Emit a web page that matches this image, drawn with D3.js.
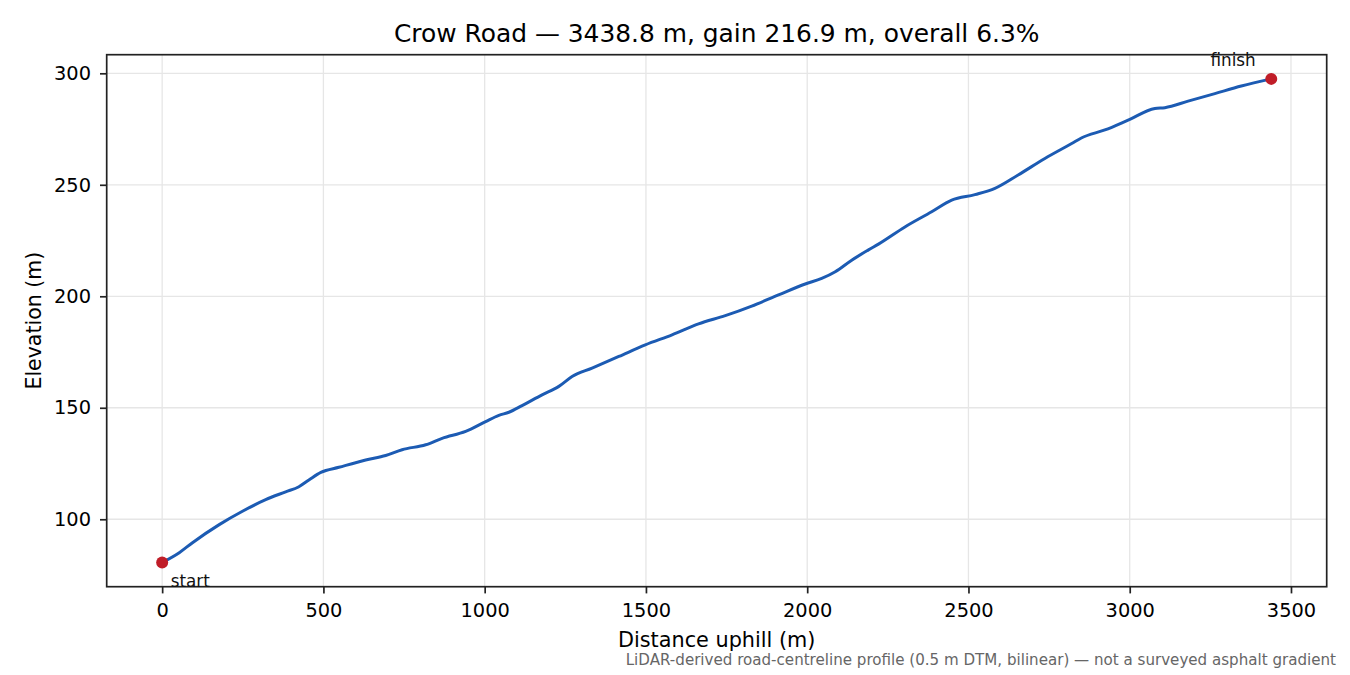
<!DOCTYPE html>
<html>
<head>
<meta charset="utf-8">
<script src="https://cdn.jsdelivr.net/npm/d3@7"></script>
<style>
  body { margin: 0; background: #fff; }
  text { font-family: "DejaVu Sans", sans-serif; }
</style>
</head>
<body>
<svg id="chart"></svg>
<script>
// profile (distance uphill in m, elevation in m)
const distance = [0, 53, 94, 177, 249, 321, 383, 424, 455, 492, 548, 631, 693, 744, 817, 868, 941,
  1003, 1044, 1075, 1116, 1178, 1230, 1271, 1333, 1416, 1498, 1581, 1663, 1746, 1828, 1911, 1994,
  2045, 2087, 2138, 2190, 2221, 2303, 2386, 2448, 2520, 2582, 2654, 2737, 2820, 2850, 2923, 2995,
  3078, 3109, 3181, 3264, 3346, 3438.8];
const elevation = [80.6, 85.0, 89.5, 97.6, 103.6, 108.8, 112.3, 114.6, 117.6, 121.0, 123.3, 126.6, 128.6, 131.2, 133.4, 136.3, 139.4,
  143.8, 146.6, 148.0, 151.0, 155.8, 159.6, 164.0, 167.8, 173.0, 178.2, 182.7, 187.6, 191.3, 195.6, 200.6, 205.5,
  208.0, 211.0, 216.2, 220.8, 223.4, 231.1, 237.9, 243.1, 245.6, 248.4, 254.4, 261.8, 268.5, 271.0, 274.6, 279.0,
  284.2, 284.6, 287.5, 290.9, 294.3, 297.5];

const xTicks = [0, 500, 1000, 1500, 2000, 2500, 3000, 3500];
const yTicks = [100, 150, 200, 250, 300];

const titleText = "Crow Road \u2014 3438.8 m, gain 216.9 m, overall 6.3%";
const xLabel = "Distance uphill (m)";
const yLabel = "Elevation (m)";
const footnote = "LiDAR-derived road-centreline profile (0.5 m DTM, bilinear) \u2014 not a surveyed asphalt gradient";

const W = 1350, H = 675;
const m = { left: 106.7, right: 1326.7, top: 54.7, bottom: 586.7 };

const svg = d3.select("#chart").attr("width", W).attr("height", H);

const data = distance.map((d, i) => ({ d: d, e: elevation[i] }));

// matplotlib-style 5% margins
const xExt = d3.extent(distance), yExt = d3.extent(elevation);
const xPad = (xExt[1] - xExt[0]) * 0.05, yPad = (yExt[1] - yExt[0]) * 0.05;

const x = d3.scaleLinear().domain([xExt[0] - xPad, xExt[1] + xPad]).range([m.left, m.right]);
const y = d3.scaleLinear().domain([yExt[0] - yPad, yExt[1] + yPad]).range([m.bottom, m.top]);

// grid
svg.append("g").selectAll("line")
  .data(xTicks).enter().append("line")
  .attr("x1", d => x(d)).attr("x2", d => x(d))
  .attr("y1", m.top).attr("y2", m.bottom)
  .attr("stroke", "#e6e6e6").attr("stroke-width", 1.3);

svg.append("g").selectAll("line")
  .data(yTicks).enter().append("line")
  .attr("x1", m.left).attr("x2", m.right)
  .attr("y1", d => y(d)).attr("y2", d => y(d))
  .attr("stroke", "#e6e6e6").attr("stroke-width", 1.3);

// axes
const xAxis = svg.append("g")
  .attr("transform", `translate(0,${m.bottom})`)
  .call(d3.axisBottom(x).tickValues(xTicks).tickSize(6.7).tickPadding(10).tickFormat(d3.format("d")));
const yAxis = svg.append("g")
  .attr("transform", `translate(${m.left},0)`)
  .call(d3.axisLeft(y).tickValues(yTicks).tickSize(6.7).tickPadding(9).tickFormat(d3.format("d")));

[xAxis, yAxis].forEach(g => {
  g.select(".domain").remove();
  g.selectAll(".tick line").attr("stroke", "#222").attr("stroke-width", 1.7);
  g.selectAll(".tick text").attr("fill", "#000").style("font-size", "19.4px")
    .style("font-family", "'DejaVu Sans', sans-serif");
});

// frame
svg.append("rect")
  .attr("x", m.left).attr("y", m.top)
  .attr("width", m.right - m.left).attr("height", m.bottom - m.top)
  .attr("fill", "none").attr("stroke", "#222").attr("stroke-width", 1.7);

// profile line
const line = d3.line()
  .x(d => x(d.d))
  .y(d => y(d.e))
  .curve(d3.curveMonotoneX);

svg.append("path")
  .datum(data)
  .attr("d", line)
  .attr("fill", "none")
  .attr("stroke", "#1c5bb3")
  .attr("stroke-width", 3)
  .attr("stroke-linejoin", "round");

// start / finish markers
const ends = [data[0], data[data.length - 1]];
svg.append("g").selectAll("circle")
  .data(ends).enter().append("circle")
  .attr("cx", d => x(d.d)).attr("cy", d => y(d.e))
  .attr("r", 6)
  .attr("fill", "#c01d28");

svg.append("text")
  .attr("x", x(ends[0].d) + 8.5).attr("y", y(ends[0].e) + 24.7)
  .style("font-size", "16.8px").attr("fill", "#111")
  .text("start");

svg.append("text")
  .attr("x", x(ends[1].d) - 15.5).attr("y", y(ends[1].e) - 13.3)
  .attr("text-anchor", "end")
  .style("font-size", "16.8px").attr("fill", "#111")
  .text("finish");

// labels
svg.append("text")
  .attr("x", (m.left + m.right) / 2).attr("y", 41.5)
  .attr("text-anchor", "middle")
  .style("font-size", "24.9px")
  .text(titleText);

svg.append("text")
  .attr("x", (m.left + m.right) / 2).attr("y", 647)
  .attr("text-anchor", "middle")
  .style("font-size", "20.8px")
  .text(xLabel);

svg.append("text")
  .attr("transform", `translate(41,${(m.top + m.bottom) / 2}) rotate(-90)`)
  .attr("text-anchor", "middle")
  .style("font-size", "20.5px")
  .text(yLabel);

svg.append("text")
  .attr("x", 1336).attr("y", 665)
  .attr("text-anchor", "end")
  .style("font-size", "15.1px")
  .attr("fill", "#666")
  .text(footnote);
</script>
</body>
</html>
